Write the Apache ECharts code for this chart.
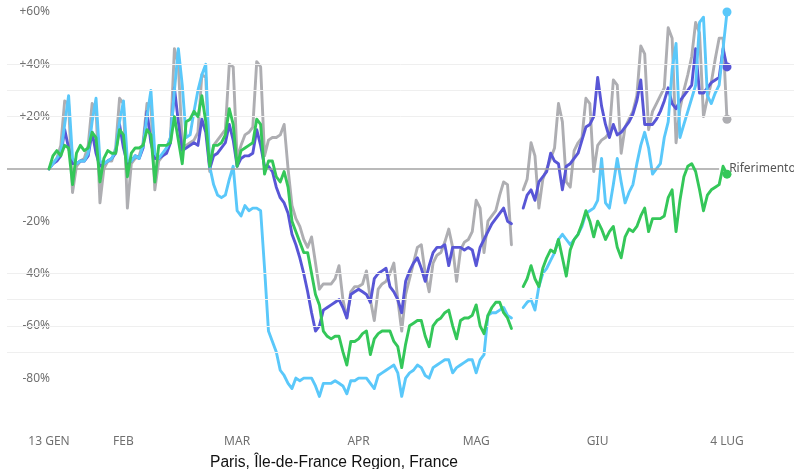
<!DOCTYPE html>
<html>
<head>
<meta charset="utf-8">
<script src="https://cdn.jsdelivr.net/npm/echarts@6/dist/echarts.min.js"></script>
<style>
html,body{margin:0;padding:0;background:#fff;}
#chart{width:794px;height:469px;}
</style>
</head>
<body>
<div id="chart"></div>
<script>
// Day index 0 = 13 Jan 2020 ... 173 = 4 Jul 2020 ; null = missing days
const tickDays = [0, 19, 48, 79, 109, 140, 173];
const tickLabels = ['13 GEN', 'FEB', 'MAR', 'APR', 'MAG', 'GIU', '4 LUG'];
const yTicks = [60, 40, 20, -20, -40, -60, -80];
const gridValues = [40, 30, 20, -40, -50, -60, -70];

const graySeries = [
  0, 2, 4, 9, 26, 25, -9,
  1, 3, 4, 9, 25, 23, -13,
  0, 3, 3, 8, 27, 25, -15,
  2, 4, 5, 10, 25, 24, -8,
  3, 5, 8, 12, 46, 40, 9,
  9, 10, 11, 14, 36, 35, -1,
  9, 11, 13, 15, 40, 39, 4,
  9, 13, 14, 16, 41, 39, 5,
  11, 12, 12, 13, 17, 0, -14,
  -19, -22, -27, -30, -26, -36, -46,
  -44, -44, -44, -42, -37, -50, -57,
  -47, -45, -45, -44, -39, -50, -58,
  -46, -44, -43, -40, -36, -50, -62,
  -48, -42, -36, -30, -29, -40, -47,
  -36, -33, -32, -28, -23, -30, -43,
  -31, -28, -27, -24, -12, -15, -32,
  -20, -18, -16, -10, -5, -6, -29,
  null, null,
  -8, -4, 10, 5, -15, -4, 0,
  4, 8, 25, 18, -5, -7, 7,
  10, 12, 27, 25, -1, 9, 11,
  12, 14, 34, 32, 6, 16, 19,
  22, 28, 47, 44, 15, 22, 25,
  28, 31, 54, 50, 10, 23, 30,
  36, 43, 56, 52, 20, 27, 33,
  42, 50, 50, 19
];

const purpleSeries = [
  0, 2, 3, 5, 15, 8, 2,
  2, 3, 3, 5, 14, 6, 1,
  2, 3, 4, 6, 17, 8, 2,
  3, 5, 4, 8, 22, 10, 4,
  4, 5, 6, 10, 31, 18, 7,
  8, 9, 10, 9, 19, 14, 0,
  5, 6, 8, 10, 17, 11, 1,
  4, 5, 5, 6, 15, 9, 1,
  1, -1, -7, -11, -13, -17, -25,
  -29, -34, -40, -47, -55, -62, -60,
  -54, -53, -52, -51, -50, -53, -57,
  -48, -47, -46, -47, -48, -51, -42,
  -40, -39, -38, -45, -47, -50, -55,
  -43, -39, -36, -34, -38, -43, -37,
  -32, -30, -30, -29, -37, -30, -30,
  -30, -31, -30, -31, -37, -30, -27,
  -24, -21, -19, -17, -15, -20, -21,
  null, null,
  -15, -10, -8, -12, -5, -3, -1,
  6, 3, 2, -8, 1, 2, 4,
  6, 11, 16, 17, 20, 35, 24,
  17, 12, 17, 13, 14, 16, 18,
  21, 26, 34, 17, 17, 17, 19,
  22, 26, 31, 25, 23, 26, 28,
  30, 32, 46, 29, 29, 31, 33,
  34, 35, 46, 39
];

const lightBlueSeries = [
  0, 2, 4, 6, 17, 28, 4,
  2, 3, 3, 6, 18, 27, 3,
  2, 3, 4, 7, 18, 26, 3,
  3, 5, 4, 9, 20, 30, 6,
  4, 6, 8, 12, 30, 46, 32,
  12, 13, 22, 30, 36, 40, 1,
  -6, -10, -11, -10, -4, 1, -16,
  -18, -14, -16, -15, -15, -16, -38,
  -62, -66, -70, -77, -79, -82, -84,
  -80, -81, -80, -80, -80, -83, -87,
  -82, -82, -82, -81, -82, -83, -86,
  -81, -81, -80, -80, -80, -82, -84,
  -79, -78, -77, -76, -75, -78, -87,
  -80, -78, -77, -75, -76, -79, -80,
  -76, -75, -74, -73, -73, -78, -76,
  -75, -74, -73, -73, -78, -73, -71,
  -56, -55, -55, -54, -53, -56, -57,
  null, null,
  -53, -51, -50, -54, -45, -40, -38,
  -35, -32, -27, -25, -27, -29, -27,
  -25, -22, -17, -16, -15, -12, 4,
  -13, -15, -6, 4, -5, -13, -9,
  -6, 2, 9, 14, 8, -2, 0,
  2, 12, 18, 38, 48, 12, 17,
  22, 27, 32, 56, 58, 28, 25,
  29, 32, 46, 60
];

const greenSeries = [
  0, 5, 7, 5, 9, 8, -6,
  6, 9, 7, 8, 14, 12, -5,
  4, 7, 6, 6, 15, 13, -3,
  6, 8, 8, 9, 15, 13, -5,
  9, 9, 9, 10, 20, 11, 2,
  18, 19, 22, 20, 28, 18, 1,
  9, 9, 10, 13, 23, 17, 1,
  7, 8, 9, 10, 19, 17, -2,
  3, 3, -3, -5, -1, -7, -20,
  -24, -28, -32, -32, -40, -48, -52,
  -62, -64, -65, -64, -64, -70, -75,
  -66, -66, -65, -63, -62, -71, -65,
  -63, -62, -62, -62, -66, -68, -76,
  -67, -60, -59, -58, -58, -64, -68,
  -60, -58, -57, -55, -54, -60, -65,
  -58, -57, -57, -56, -52, -60, -63,
  -56, -53, -51, -51, -55, -57, -61,
  null, null,
  -45, -42, -37, -42, -45, -38, -34,
  -31, -32, -27, -34, -41, -31, -27,
  -25, -21, -16, -20, -26, -20, -23,
  -27, -24, -22, -30, -34, -26, -23,
  -24, -22, -18, -15, -24, -19, -19,
  -19, -18, -11, -8, -24, -12, -3,
  1, 2, -1, -8, -16, -10, -8,
  -7, -6, 1, -2
];

const refLabel = 'Riferimento';
const titleText = 'Paris, Île-de-France Region, France';

const X_MIN = -10.72, X_MAX = 190.1, REF_END = 171;

function toPairs(arr) {
  return arr.map((v, i) => [i, v]);
}

function makeSeries(name, arr, color, extra) {
  const last = arr.length - 1;
  return Object.assign({
    name: name,
    type: 'line',
    data: toPairs(arr),
    showSymbol: true,
    showAllSymbol: true,
    symbol: 'circle',
    symbolSize: function (val, params) { return params.dataIndex === last ? 9 : 0; },
    itemStyle: { color: color },
    lineStyle: { color: color, width: 2.9, join: 'round', cap: 'round' },
    connectNulls: false,
    animation: false,
    silent: true
  }, extra || {});
}

const chart = echarts.init(document.getElementById('chart'), null, { renderer: 'canvas' });

const gridLines = gridValues.map(v => ({
  yAxis: v,
  lineStyle: { color: '#efefef', width: 1, type: 'solid' },
  label: { show: false }
}));

chart.setOption({
  backgroundColor: '#ffffff',
  animation: false,
  title: {
    text: titleText,
    left: 205,
    top: 450,
    textStyle: { fontFamily: 'Liberation Sans, Arial, sans-serif', fontSize: 15.6, fontWeight: 'normal', color: '#111' }
  },
  grid: { left: 7, right: 0, top: 12, bottom: 38.6, containLabel: false },
  xAxis: {
    type: 'value',
    min: X_MIN,
    max: X_MAX,
    axisLine: { show: false },
    axisTick: { show: false },
    splitLine: { show: false },
    axisLabel: {
      customValues: tickDays,
      margin: 5,
      color: '#707070',
      fontFamily: 'Noto Sans, sans-serif',
      fontSize: 12,
      formatter: function (v) {
        const i = tickDays.indexOf(Math.round(v));
        return i >= 0 ? tickLabels[i] : '';
      }
    }
  },
  yAxis: {
    type: 'value',
    min: -100,
    max: 60,
    interval: 20,
    axisLine: { show: false },
    axisTick: { show: false },
    splitLine: { show: false },
    axisLabel: {
      customValues: yTicks,
      inside: true,
      align: 'right',
      margin: 43,
      color: '#707070',
      fontFamily: 'Noto Sans, sans-serif',
      fontSize: 12,
      formatter: function (v) { return (v > 0 ? '+' : '') + v + '%'; }
    }
  },
  series: [
    makeSeries('gray', graySeries, '#AEAEB2', {
      z: 2,
      markLine: {
        silent: true,
        symbol: 'none',
        animation: false,
        data: gridLines.concat([[
          {
            coord: [X_MIN, 0],
            lineStyle: { color: '#a3a3a3', width: 1.6, type: 'solid' },
            label: { show: true, position: 'end', formatter: refLabel, distance: 10, color: '#555', fontFamily: 'Noto Sans, sans-serif', fontSize: 12 }
          },
          { coord: [REF_END, 0] }
        ]])
      }
    }),
    makeSeries('purple', purpleSeries, '#5856D6', { z: 3 }),
    makeSeries('lightblue', lightBlueSeries, '#5AC8FA', { z: 4 }),
    makeSeries('green', greenSeries, '#34C759', { z: 5 })
  ]
});
</script>
</body>
</html>
